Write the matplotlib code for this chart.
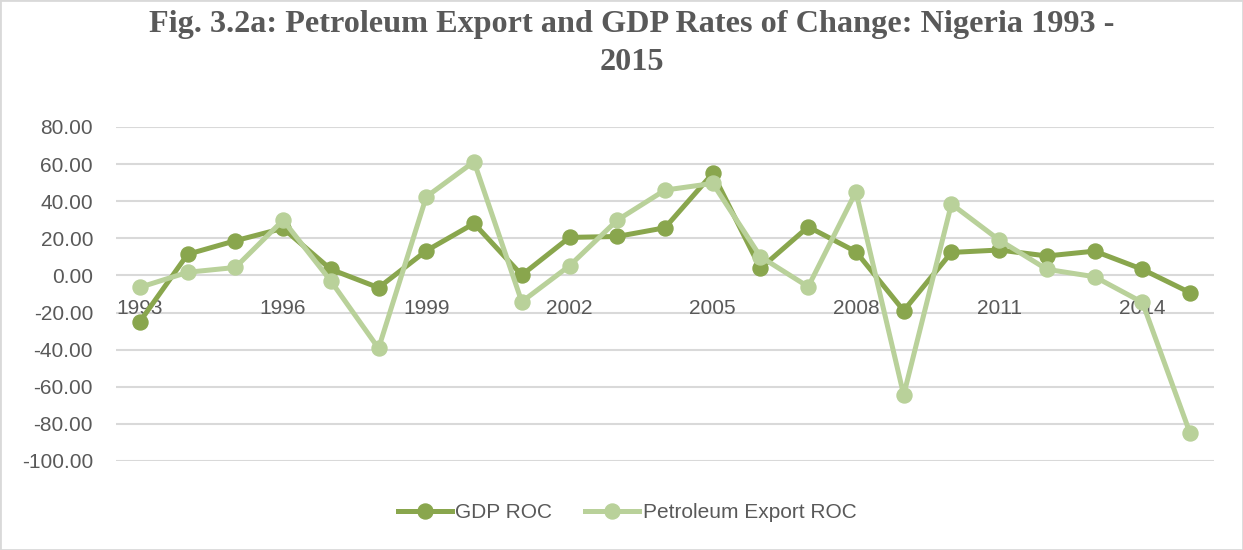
import matplotlib
matplotlib.use("Agg")
import matplotlib.pyplot as plt

years = list(range(1993, 2016))
gdp_roc = [-24.9, 11.4, 18.7, 25.4, 3.3, -6.6, 13.3, 28.0, 0.2, 20.5, 21.0, 25.7,
           55.0, 3.8, 26.2, 12.8, -19.0, 12.4, 13.7, 10.5, 13.1, 3.3, -9.3]
pet_roc = [-6.4, 1.7, 4.3, 29.8, -3.0, -39.3, 42.4, 61.3, -14.2, 5.2, 29.8, 46.0,
           49.6, 10.1, -6.1, 45.1, -64.4, 38.5, 19.1, 3.3, -0.7, -14.5, -85.1]
series_names = ["GDP ROC", "Petroleum Export ROC"]
title = "Fig. 3.2a: Petroleum Export and GDP Rates of Change: Nigeria 1993 -\n2015"

dark = "#89A64D"
light = "#B9D19A"
text_col = "#595959"
grid_col = "#D9D9D9"

plt.rcParams['font.family'] = ['Liberation Sans', 'DejaVu Sans']

fig = plt.figure(figsize=(12.43, 5.5), dpi=100)
ax = fig.add_axes([116/1243, 1-461/550, (1214-116)/1243, (461-127)/550])

x = list(range(len(years)))
ax.plot(x, gdp_roc, color=dark, lw=3.6, marker='o', markersize=10.8, label=series_names[0], zorder=3)
ax.plot(x, pet_roc, color=light, lw=3.6, marker='o', markersize=10.8, label=series_names[1], zorder=4)

ax.set_xlim(-0.5, len(years) - 0.5)
ax.set_ylim(-100, 80)
yt = list(range(-100, 81, 20))
ax.set_yticks(yt)
ax.set_yticklabels([f"{v:.2f}" for v in yt])
ax.yaxis.grid(True, color=grid_col, lw=1.5)
ax.set_axisbelow(True)

ax.spines['bottom'].set_position(('data', 0))
ax.set_xticks(x[::3])
ax.set_xticklabels([str(y) for y in years[::3]])
for s in ['top', 'right', 'left', 'bottom']:
    ax.spines[s].set_visible(False)
ax.tick_params(axis='both', length=0, labelsize=15, labelcolor=text_col)
ax.tick_params(axis='x', pad=17)
ax.tick_params(axis='y', pad=16.5)
ax.yaxis.set_zorder(0.5)
ax.xaxis.set_zorder(1.5)

fig.suptitle(title, fontfamily='Liberation Serif', fontweight='bold', fontsize=23.2,
             color=text_col, x=0.508, y=0.982, linespacing=1.4)

leg = fig.legend(loc='center', bbox_to_anchor=(627/1243, 1-513/550), ncol=2, frameon=False,
                 fontsize=15, handlelength=2.6, columnspacing=1.6, handletextpad=0.15)
for t in leg.get_texts():
    t.set_color(text_col)

fig.patches.append(matplotlib.patches.Rectangle((0, 0), 1, 1, transform=fig.transFigure,
                                                fill=False, edgecolor=grid_col, lw=2))
fig.savefig("out.png", dpi=100)
